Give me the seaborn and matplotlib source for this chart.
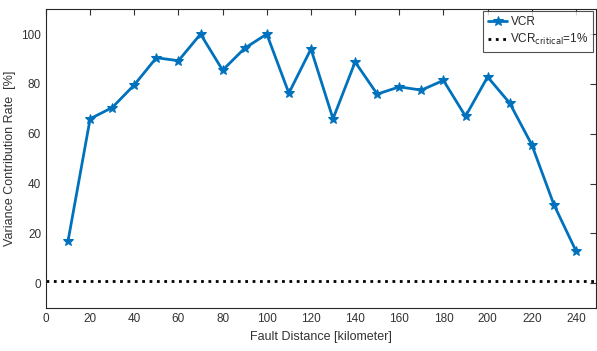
import matplotlib
matplotlib.use("Agg")
import matplotlib.pyplot as plt
import seaborn as sns
import pandas as pd

distance_km = [10, 20, 30, 40, 50, 60, 70, 80, 90, 100, 110, 120,
               130, 140, 150, 160, 170, 180, 190, 200, 210, 220, 230, 240]
vcr_percent = [17, 66, 70.5, 79.6, 90.5, 89.3, 100, 85.5, 94.3, 100, 76.3, 94,
               66, 88.8, 75.9, 78.8, 77.5, 81.4, 67, 82.8, 72.3, 55.6, 31.6, 13]
critical_level = 1
x_ticks = list(range(0, 241, 20))
y_ticks = list(range(0, 101, 20))

sns.set_style("white")
plt.rcParams['font.family'] = ['Liberation Sans', 'DejaVu Sans']

df = pd.DataFrame({"distance": distance_km, "vcr": vcr_percent})

fig = plt.figure(figsize=(5.97, 3.51), dpi=100)
ax = fig.add_axes([0.077, 0.122, 0.921, 0.852])

sns.lineplot(data=df, x="distance", y="vcr", ax=ax, color="#0072BD",
             linewidth=2, marker="*", markersize=7, markeredgecolor="#0072BD",
             label="VCR")
ax.axhline(critical_level, color="black", linestyle=":", linewidth=2,
           label="VCR$_{\\mathrm{critical}}$=1%")

ax.set_xlim(0, 249)
ax.set_ylim(-10, 110)
ax.set_xticks(x_ticks)
ax.set_yticks(y_ticks)
ax.set_xlabel("Fault Distance [kilometer]", fontsize=9, color="#333333")
ax.set_ylabel("Variance Contribution Rate  [%]", fontsize=9, color="#333333")
ax.tick_params(direction="in", length=4, width=0.8, top=True, right=True,
               labelsize=8.5, colors="#333333")
for s in ax.spines.values():
    s.set_color("#262626")
    s.set_linewidth(0.8)

leg = ax.legend(loc="upper right", fontsize=8.5, frameon=True, fancybox=False,
                handlelength=1.6, handletextpad=0.3, borderpad=0.4,
                labelspacing=0.3, borderaxespad=0.2)
leg.get_frame().set_edgecolor("#262626")
leg.get_frame().set_linewidth(0.8)

fig.savefig("out.png", dpi=100)
